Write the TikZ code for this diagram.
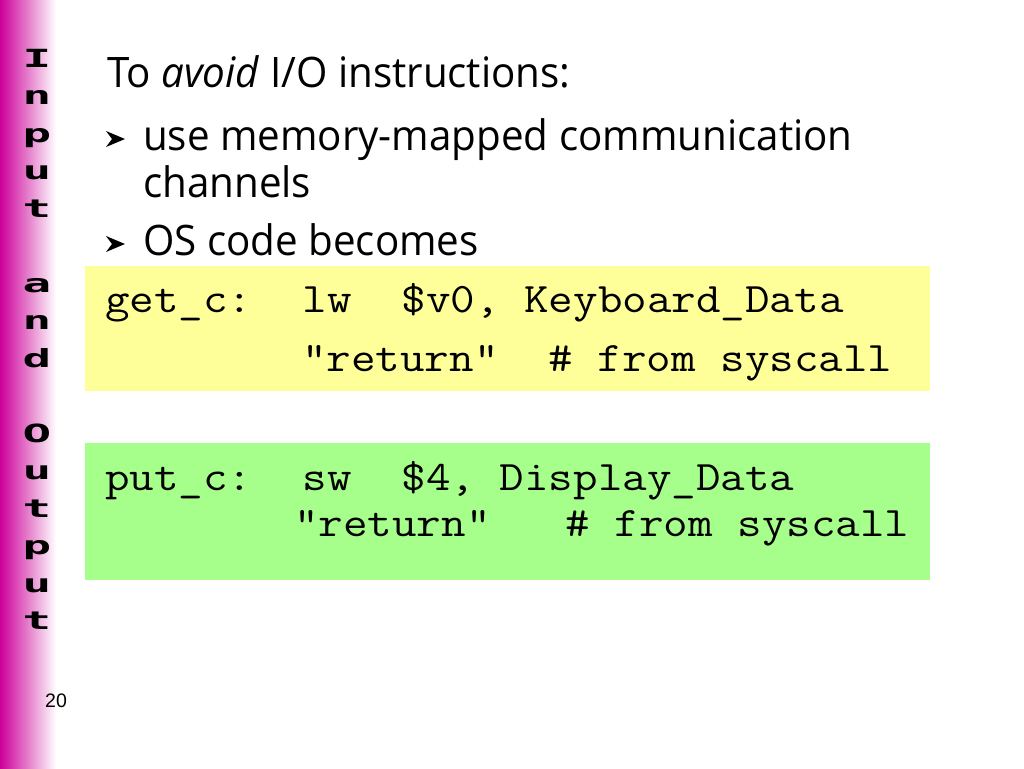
\documentclass[tikz,border=0pt]{standalone}
\usepackage{fontspec}
\setmainfont{Open Sans}
\newfontfamily\barfont{DejaVu Sans Mono}
\newfontfamily\numfont{Liberation Sans}
\usetikzlibrary{positioning}
\definecolor{BAR}{HTML}{CC0099}
\definecolor{YELLOW_BOX}{HTML}{FFFF99}
\definecolor{GREEN_BOX}{HTML}{A6FF8A}
\newcommand\codesp{\hspace*{0.525em}}
\tikzset{
	every node/.style = {inner sep=0pt, anchor=base west},
	slidetext/.style = {xscale=0.96, font=\fontsize{42}{50}\selectfont},
	codetext/.style = {xscale=1.135, font=\fontsize{42}{48}\ttfamily},
	barletter/.style = {anchor=base, xscale=1.9, font=\fontsize{25}{28}\barfont\bfseries},
	bullet/.pic = {\fill (0,-8) -- (19,0) -- (0,8) -- (6,0) -- cycle;}
}
\begin{document}
\begin{tikzpicture}[x=1pt, y=-1pt]
		\useasboundingbox (0,0) rectangle (1024,768);
		% side bar
		\shade[left color=BAR, right color=white] (0,0) rectangle (56,768);
		\foreach \ch/\row in {I/0,n/1,p/2,u/3,t/4,a/6,n/7,d/8,O/10,u/11,t/12,p/13,u/14,t/15}
		      \node[barletter] (l\row) at (37,67+37.5*\row) {\ch};
		\node[font=\fontsize{19.5}{22}\numfont] (num) at (45,707) {20};
		% bullets
		\node[slidetext] (title) at (107,87) {To \textit{avoid} I/O instructions:};
		\pic at (106,139) {bullet};
		\node[slidetext] (mem) at (143,150) {use memory-mapped communication};
		\node[slidetext] (chan) at (143,197) {channels};
		\pic at (106,244) {bullet};
		\node[slidetext] (os) at (143,255) {OS code becomes};
		% get_c
		\fill[YELLOW_BOX] (85,266) rectangle (930,391);
		\node[codetext] (get) at (105,312) {get\_c:\codesp\codesp lw\codesp\codesp\$v0, Keyboard\_Data};
		\node[codetext] (getret) at (302,371) {"return"\codesp\codesp\# from syscall};
		% put_c
		\fill[GREEN_BOX] (85,443) rectangle (930,580);
		\node[codetext] (put) at (105,490) {put\_c:\codesp\codesp sw\codesp\codesp\$4, Display\_Data};
		\node[codetext] (putret) at (294,536) {"return"\codesp\codesp\codesp\# from syscall};
	\end{tikzpicture}
\end{document}
